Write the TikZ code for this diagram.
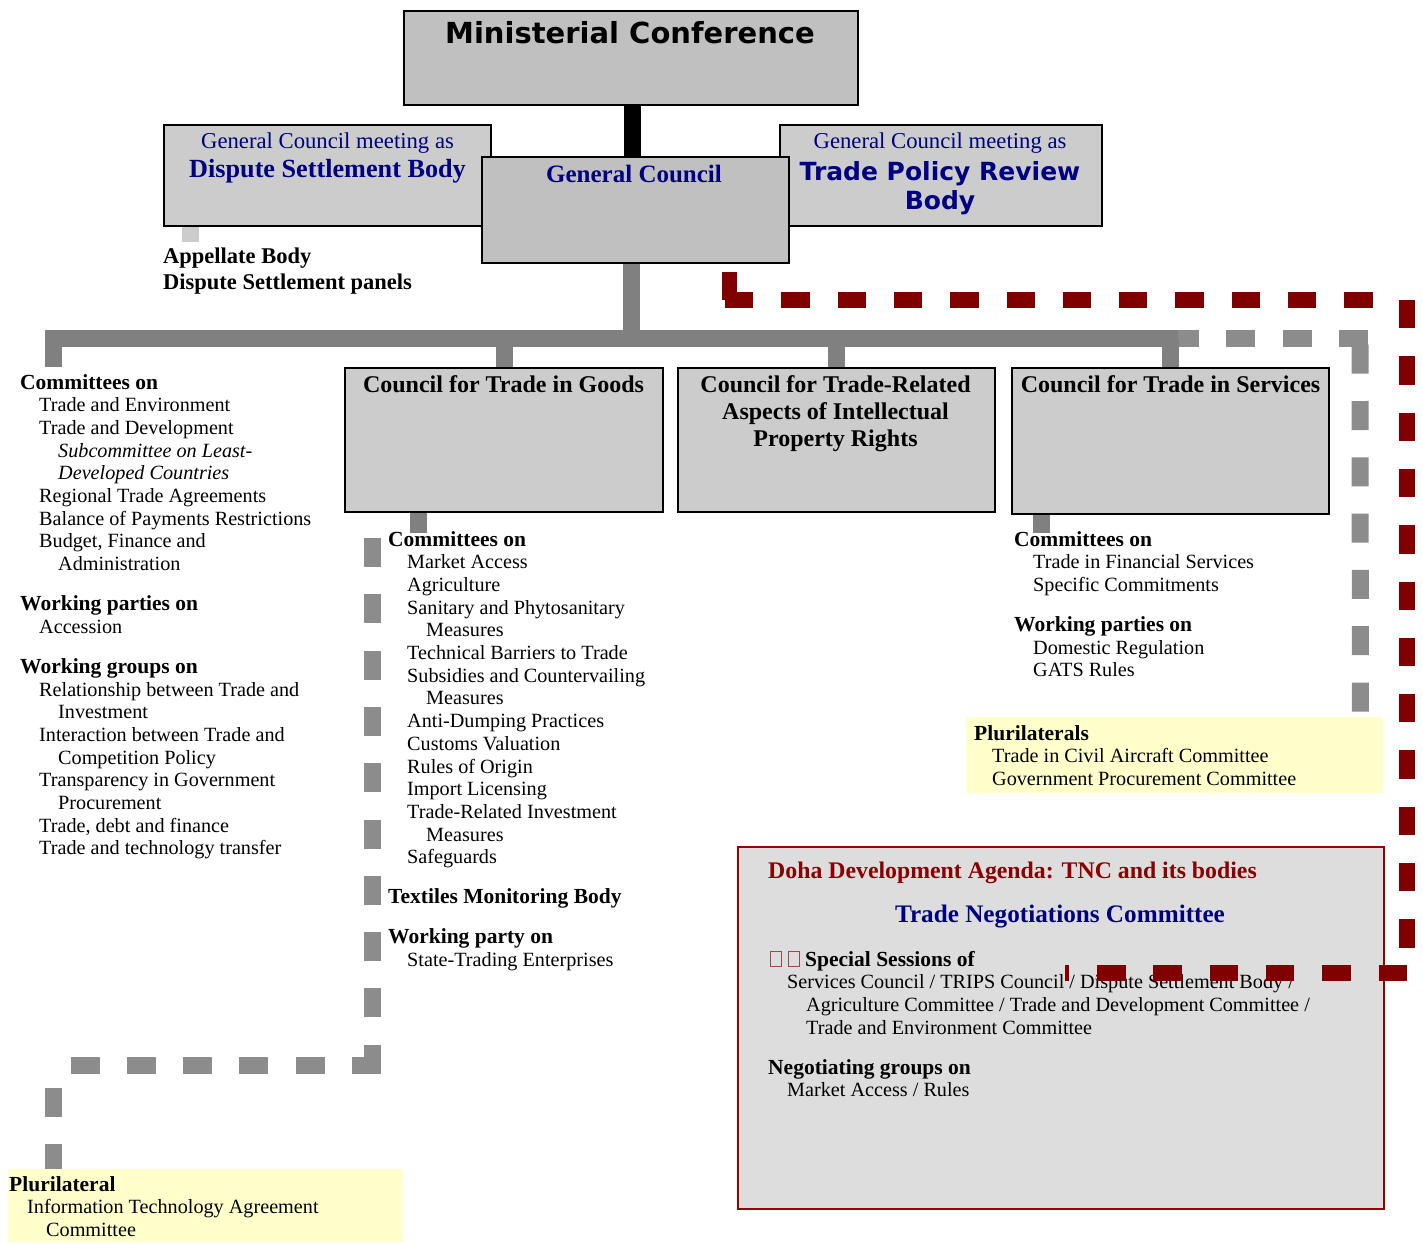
\documentclass[tikz,border=0pt]{standalone}
\usepackage{fontspec}
\setmainfont{Liberation Serif}
\newfontfamily\vsans{DejaVu Sans}
\usetikzlibrary{calc}
\pgfdeclarelayer{bg}
\pgfsetlayers{bg,main}
\definecolor{navyc}{HTML}{000080}
\definecolor{dredc}{HTML}{800000}
\definecolor{dtitle}{HTML}{8B0000}
\definecolor{dborder}{HTML}{990000}
\definecolor{boxg}{HTML}{CCCCCC}
\definecolor{boxd}{HTML}{C0C0C0}
\definecolor{barg}{HTML}{808080}
\definecolor{dashg}{HTML}{8C8C8C}
\definecolor{yelc}{HTML}{FFFFCC}
\definecolor{dohag}{HTML}{DDDDDD}
\definecolor{tofuc}{HTML}{9A4A4A}
\newcommand{\Hd}[1]{{\fontsize{21.5}{22.7}\selectfont\bfseries #1}}
\newcommand{\IndA}{\hspace*{19pt}}
\newcommand{\IndB}{\hspace*{38pt}}
\newcommand{\tofubox}{{\color{tofuc}\setlength{\fboxsep}{0pt}\setlength{\fboxrule}{0.8pt}\fbox{\rule{0pt}{14.4pt}\hspace{10.4pt}}}}
\newcommand{\bodyfont}{\fontsize{20.2}{22.7}\selectfont}
\begin{document}
\begin{tikzpicture}[x=1pt,y=-1pt,
  box/.style={draw=black, line width=2pt, fill=boxg, inner sep=0pt, anchor=north west},
  plain/.style={inner sep=0pt, anchor=north west},
  txt/.style={inner sep=0pt, anchor=base},
  blk/.style={inner sep=0pt, anchor=base west},
  gbar/.style={draw=barg, line width=17pt, line join=miter},
  gdash/.style={draw=dashg, line width=17pt, dash pattern=on 29pt off 27.3pt},
  rdash/.style={draw=dredc, line width=16pt, dash pattern=on 28.3pt off 28pt},
  rdashb/.style={draw=dredc, line width=16pt, dash pattern=on 28.5pt off 27.8pt}]
\useasboundingbox (0,0) rectangle (1423,1242);

% ---------- boxes ----------
\node[box, fill=boxd, minimum width=454pt, minimum height=94pt] (mc) at (403,10) {};
\node[box, minimum width=327pt, minimum height=101pt] (dsb) at (163,124) {};
\node[box, minimum width=322pt, minimum height=101pt] (tprb) at (779,124) {};
\node[box, fill=boxd, minimum width=307pt, minimum height=106pt] (gc) at (481,156) {};
\node[box, minimum width=318pt, minimum height=144pt] (goods) at (344,367) {};
\node[box, minimum width=317pt, minimum height=144pt] (trips) at (677,367) {};
\node[box, minimum width=317pt, minimum height=146pt] (serv) at (1011,367) {};
\node[plain, fill=yelc, minimum width=417pt, minimum height=76pt] (pluri) at (966,717) {};
\node[plain, fill=yelc, minimum width=395pt, minimum height=73pt] (ita) at (8,1169) {};
\node[plain, draw=dborder, line width=2pt, fill=dohag, minimum width=646pt, minimum height=362pt] (doha) at (737,846) {};

% ---------- titles ----------
\node[txt] (mct) at (630,43.6) {\vsans\bfseries\fontsize{29}{34}\selectfont Ministerial Conference};
\node[txt, text=navyc] (dsb1) at (327.5,148) {\fontsize{22.7}{26}\selectfont General Council meeting as};
\node[txt, text=navyc] (dsb2) at (327.5,177.5) {\fontsize{26.2}{30}\selectfont\bfseries Dispute Settlement Body};
\node[txt, text=navyc] (tp1) at (940,148) {\fontsize{22.7}{26}\selectfont General Council meeting as};
\node[txt, text=navyc] (tp2) at (940,180) {\vsans\bfseries\fontsize{25}{29}\selectfont Trade Policy Review};
\node[txt, text=navyc] (tp3) at (940,209) {\vsans\bfseries\fontsize{25}{29}\selectfont Body};
\node[txt, text=navyc] (gct) at (634,182) {\fontsize{25}{29}\selectfont\bfseries General Council};
\node[blk] (appel) at (163,263) {\parbox[t]{300pt}{\fontsize{22.5}{26}\selectfont\bfseries Appellate Body\\Dispute Settlement panels}};

\node[txt] (goodst) at (503.5,392) {\fontsize{24}{27}\selectfont\bfseries Council for Trade in Goods};
\node[txt] (tripst) at (835.5,392) {\parbox[t]{320pt}{\centering\fontsize{24}{27}\selectfont\bfseries Council for Trade-Related\\Aspects of Intellectual\\Property Rights}};
\node[txt] (servt) at (1170.5,392) {\fontsize{24}{27}\selectfont\bfseries Council for Trade in Services};

% ---------- text blocks ----------
\node[blk] (leftc) at (20,389) {\parbox[t]{320pt}{\bodyfont
\Hd{Committees on}\\
\IndA Trade and Environment\\
\IndA Trade and Development\\
\IndB\textit{Subcommittee on Least-}\\
\IndB\textit{Developed Countries}\\
\IndA Regional Trade Agreements\\
\IndA Balance of Payments Restrictions\\
\IndA Budget, Finance and\\
\IndB Administration\\[17.3pt]
\Hd{Working parties on}\\
\IndA Accession\\[17.3pt]
\Hd{Working groups on}\\
\IndA Relationship between Trade and\\
\IndB Investment\\
\IndA Interaction between Trade and\\
\IndB Competition Policy\\
\IndA Transparency in Government\\
\IndB Procurement\\
\IndA Trade, debt and finance\\
\IndA Trade and technology transfer}};

\node[blk] (goodsc) at (388,546) {\parbox[t]{320pt}{\bodyfont
\Hd{Committees on}\\
\IndA Market Access\\
\IndA Agriculture\\
\IndA Sanitary and Phytosanitary\\
\IndB Measures\\
\IndA Technical Barriers to Trade\\
\IndA Subsidies and Countervailing\\
\IndB Measures\\
\IndA Anti-Dumping Practices\\
\IndA Customs Valuation\\
\IndA Rules of Origin\\
\IndA Import Licensing\\
\IndA Trade-Related Investment\\
\IndB Measures\\
\IndA Safeguards\\[17.3pt]
\Hd{Textiles Monitoring Body}\\[17.3pt]
\Hd{Working party on}\\
\IndA State-Trading Enterprises}};

\node[blk] (servc) at (1014,546) {\parbox[t]{320pt}{\bodyfont
\Hd{Committees on}\\
\IndA Trade in Financial Services\\
\IndA Specific Commitments\\[17.3pt]
\Hd{Working parties on}\\
\IndA Domestic Regulation\\
\IndA GATS Rules}};

\node[blk] (plurit) at (974,740) {\parbox[t]{400pt}{\bodyfont
\Hd{Plurilaterals}\\
\hspace*{18pt}Trade in Civil Aircraft Committee\\
\hspace*{18pt}Government Procurement Committee}};

\node[blk] (itat) at (9,1191) {\parbox[t]{390pt}{\bodyfont
\Hd{Plurilateral}\\
\hspace*{18pt}Information Technology Agreement\\
\hspace*{37pt}Committee}};

\node[blk, text=dtitle] (doha1) at (768,878) {\fontsize{23.8}{28}\selectfont\bfseries Doha Development Agenda: TNC and its bodies};
\node[txt, text=navyc] (doha2) at (1060,922) {\fontsize{25.2}{29}\selectfont\bfseries Trade Negotiations Committee};
\node[blk] (dohac) at (768,966) {\parbox[t]{620pt}{\bodyfont
\hspace*{2pt}\tofubox\hspace{6pt}\tofubox\hspace{5pt}\Hd{Special Sessions of}\\
\IndA Services Council / TRIPS Council / Dispute Settlement Body /\\
\IndB Agriculture Committee / Trade and Development Committee /\\
\IndB Trade and Environment Committee\\[17.3pt]
\Hd{Negotiating groups on}\\
\IndA Market Access / Rules}};

% ---------- connectors (under the boxes) ----------
\coordinate (barL) at (53.5,338);
\coordinate (barR) at (1178,338);
\coordinate (gA) at (372.5,538);
\coordinate (gB) at (372.5,1065.5);
\coordinate (gC) at (53.5,1065.5);
\begin{pgfonlayer}{bg}
\draw[black, line width=17pt] ([xshift=1.5pt]mc.south) -- ([xshift=1.5pt]mc.south |- gc.north);
\draw[draw=boxg, line width=17pt] ([xshift=27.5pt]dsb.south west) -- ++(0,15);
\draw[gdash] ([xshift=-8pt]barR) -- (1368,338);
\draw[gdash] (1360,344.7) -- ([xshift=-23pt]pluri.north east);
\draw[gbar] ([xshift=-4pt]gc.south) -- ([xshift=-4pt]gc.south |- barL);
\draw[gbar] (barL |- goods.north) -- (barL) -- (barR);
\draw[gbar] (goods.north) -- (goods.north |- barL);
\draw[gbar] (trips.north) -- (trips.north |- barL);
\draw[gbar] (serv.north) -- (serv.north |- barL);
\draw[gbar] ([xshift=74.5pt]goods.south west) -- ++(0,20);
\draw[gbar] ([xshift=30.5pt]serv.south west) -- ++(0,18);
\draw[gdash] (gA) -- ($(gB)+(0,8.2)$);
\draw[gdash] ($(gB)+(8.5,0)$) -- ($(gC)+(-8.5,0)$);
\draw[gdash] ($(gC)+(0,22.5)$) -- (ita.north -| gC);
\end{pgfonlayer}

% ---------- red dashed link to the TNC ----------
\coordinate (rS) at (729.5,272);
\coordinate (rC1) at (1407,300);
\coordinate (rC2) at (1407,973);
\coordinate (rE) at (1065,973);
\draw[draw=dredc, line width=15pt] (rS) -- ++(0,28);
\draw[rdash] (725,300) -- ($(rC1)+(-8,0)$);
\draw[rdash] (rC1) -- (rC2);
\draw[rdashb] (rC2) -- (rE);
\end{tikzpicture}
\end{document}
